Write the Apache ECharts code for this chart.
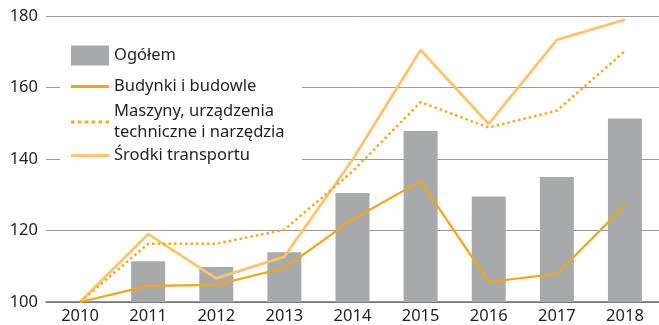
<!DOCTYPE html>
<html>
<head>
<meta charset="utf-8">
<script src="https://cdn.jsdelivr.net/npm/echarts@6/dist/echarts.min.js"></script>
<style>
  html, body { margin: 0; padding: 0; background: #fff; }
  #chart { width: 659px; height: 325px; }
</style>
</head>
<body>
<div id="chart"></div>
<script>
// Index values, 2010 = 100
const years = ['2010', '2011', '2012', '2013', '2014', '2015', '2016', '2017', '2018'];
const ogolem = [100, 111.4, 109.8, 113.9, 130.5, 147.8, 129.5, 135.0, 151.3];
const budynki = [100, 104.5, 104.8, 109.5, 123.1, 133.8, 105.6, 107.9, 127.0];
const maszyny = [100, 116.3, 116.3, 120.2, 136.5, 155.9, 148.8, 153.5, 170.2];
const transport = [100, 119.0, 106.6, 112.7, 139.8, 170.5, 149.8, 173.3, 179.0];
const yTicks = [100, 120, 140, 160, 180];

const names = {
  total: 'Ogółem',
  build: 'Budynki i budowle',
  mach: 'Maszyny, urządzenia\ntechniczne i narzędzia',
  trans: 'Środki transportu'
};

const FONT = '"Noto Sans", "Open Sans", sans-serif';
const TEXT = '#231f20';

// legend key shapes: a solid stroke and a row of square dots
const SOLID_KEY = 'rect';
const DOTTED_KEY = 'path://M0,0h3.5v3h-3.5z M6.9,0h3.5v3h-3.5z M13.8,0h3.5v3h-3.5z ' +
  'M20.7,0h3.5v3h-3.5z M27.6,0h3.5v3h-3.5z M34.5,0h3.5v3h-3.5z';

const chart = echarts.init(document.getElementById('chart'), null, { renderer: 'canvas' });

function legendAt(name, top, icon, keyHeight) {
  return {
    data: [{ name: name, icon: icon }],
    left: 66,
    top: top,
    orient: 'vertical',
    itemWidth: 38,
    itemHeight: keyHeight,
    itemGap: 0,
    padding: 5,
    selectedMode: false,
    textStyle: { fontFamily: FONT, fontSize: 16.5, color: TEXT, lineHeight: 21 }
  };
}

chart.setOption({
  animation: false,
  backgroundColor: '#fff',
  grid: { left: 46, right: -1, top: 16, bottom: 22, containLabel: false },
  xAxis: {
    type: 'category',
    data: years,
    axisLine: { show: true, lineStyle: { color: '#6d6e71', width: 1.5 } },
    axisTick: { show: false },
    axisLabel: { fontFamily: FONT, fontSize: 16.5, color: TEXT, margin: 6 }
  },
  yAxis: {
    type: 'value',
    min: yTicks[0],
    max: yTicks[yTicks.length - 1],
    interval: 20,
    axisLine: { show: false },
    axisTick: { show: false },
    axisLabel: { fontFamily: FONT, fontSize: 16.5, color: TEXT, margin: 8 },
    splitLine: { lineStyle: { color: '#9a9a9a', width: 1 } }
  },
  graphic: [{
    type: 'rect',
    left: 60,
    top: 38,
    z: 3,
    shape: { width: 242, height: 130 },
    style: { fill: '#fff' },
    silent: true
  }],
  legend: [
    legendAt(names.total, 40, 'rect', 20),
    legendAt(names.build, 71, SOLID_KEY, 3),
    legendAt(names.mach, 96, DOTTED_KEY, 3),
    legendAt(names.trans, 140, SOLID_KEY, 3)
  ],
  series: [
    {
      name: names.total,
      type: 'bar',
      data: ogolem,
      barWidth: 34,
      itemStyle: { color: '#a7a9ab' },
      z: 2
    },
    {
      name: names.build,
      type: 'line',
      data: budynki,
      symbol: 'none',
      lineStyle: { color: '#f0a619', width: 2.2 },
      itemStyle: { color: '#f0a619' },
      z: 4
    },
    {
      name: names.mach,
      type: 'line',
      data: maszyny,
      symbol: 'none',
      lineStyle: { color: '#f4a823', width: 2.5, type: [2.5, 3] },
      itemStyle: { color: '#f4a823' },
      z: 4
    },
    {
      name: names.trans,
      type: 'line',
      data: transport,
      symbol: 'none',
      lineStyle: { color: '#fec36b', width: 2.8 },
      itemStyle: { color: '#fec36b' },
      z: 3
    }
  ]
});
</script>
</body>
</html>
